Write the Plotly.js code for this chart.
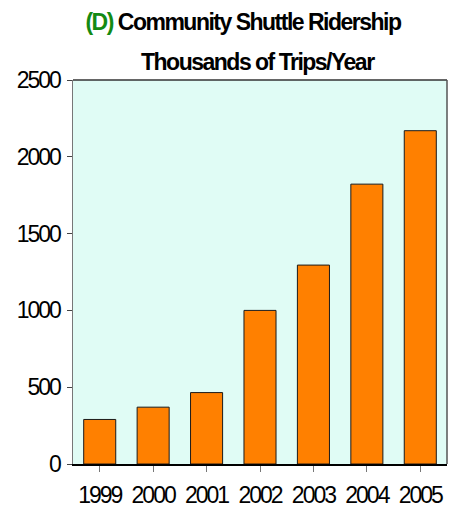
<!DOCTYPE html>
<html>
<head>
<meta charset="utf-8">
<script src="https://cdn.plot.ly/plotly-3.0.1.min.js"></script>
<style>
html,body{margin:0;padding:0;background:#fff;}
#chart{width:457px;height:509px;}
.xtick text, .ytick text{letter-spacing:-2px;}
.gtitle, .annotation-text{letter-spacing:-1.5px;}
</style>
</head>
<body>
<div id="chart"></div>
<script>
const years = ["1999","2000","2001","2002","2003","2004","2005"];
const trips = [290, 370, 465, 1000, 1295, 1822, 2170];
const yTicks = [0, 500, 1000, 1500, 2000, 2500];
const titleLine1Tag = "(D)";
const titleLine1 = "Community Shuttle Ridership";
const titleLine2 = "Thousands of Trips/Year";

const tickFont = {family: "'Liberation Sans', Arial, sans-serif", size: 23, color: "#000"};
const titleFont = {family: "'Liberation Sans', Arial, sans-serif", size: 23, color: "#000", weight: "bold"};

const data = [{
  type: "bar",
  x: years,
  y: trips,
  marker: {color: "#FF8000", line: {color: "#1a1a1a", width: 1}},
  hoverinfo: "none"
}];

const layout = {
  width: 457,
  height: 509,
  margin: {l: 73, r: 10, t: 80, b: 45, pad: 0},
  paper_bgcolor: "#ffffff",
  plot_bgcolor: "#E0FCF5",
  bargap: 0.4,
  showlegend: false,
  title: {
    text: "<span style='color:#138A13'>" + titleLine1Tag + "</span> " + titleLine1,
    font: titleFont,
    xref: "container", x: 243/457, xanchor: "center",
    yref: "container", y: 1 - 22/509, yanchor: "middle"
  },
  annotations: [{
    text: titleLine2,
    font: titleFont,
    xref: "paper", yref: "paper",
    x: (258 - 73) / 374, y: 1 + (80 - 62) / 384,
    xanchor: "center", yanchor: "middle",
    showarrow: false
  }],
  xaxis: {
    type: "category",
    showline: true, linecolor: "#000", linewidth: 1.5,
    ticks: "outside", ticklen: 6, tickcolor: "#777", tickwidth: 1,
    tickfont: tickFont,
    ticklabelstandoff: 4,
    showgrid: false, zeroline: false
  },
  yaxis: {
    range: [0, 2500],
    tickvals: yTicks,
    ticktext: yTicks.map(String),
    showline: true, linecolor: "#777", linewidth: 1.5,
    ticks: "outside", ticklen: 5, tickcolor: "#444", tickwidth: 1,
    tickfont: tickFont,
    ticklabelstandoff: 2,
    showgrid: false, zeroline: false
  },
  shapes: [
    {type: "line", xref: "paper", yref: "paper", x0: 0, x1: 1, y0: 1, y1: 1, line: {color: "#333", width: 1.5}},
    {type: "line", xref: "paper", yref: "paper", x0: 1, x1: 1, y0: 0, y1: 1, line: {color: "#555", width: 1.5}}
  ]
};

Plotly.newPlot("chart", data, layout, {staticPlot: true, displayModeBar: false});
</script>
</body>
</html>
